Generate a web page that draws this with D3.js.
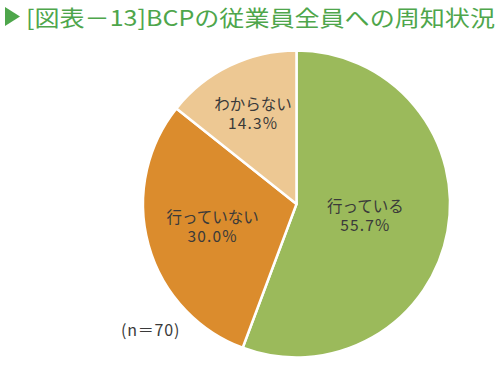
<!DOCTYPE html>
<html>
<head>
<meta charset="utf-8">
<script src="https://cdn.jsdelivr.net/npm/d3@7"></script>
<style>
  body { margin: 0; background: #fff; }
  text { font-family: "Noto Sans CJK JP", "Noto Sans", sans-serif; }
</style>
</head>
<body>
<svg id="chart" width="500" height="365"></svg>
<script>
var categories = ["行っている", "行っていない", "わからない"];
var values = [55.7, 30.0, 14.3];
var colors = ["#9bba5b", "#db8c2d", "#edc893"];
var title = "[図表－13]BCPの従業員全員への周知状況";
var note = "(n＝70)";

var svg = d3.select("#chart");

// title
svg.append("path")
  .attr("d", "M5,7 L20,16.5 L5,26 Z")
  .style("fill", "#4ea64b");
svg.append("text")
  .attr("x", 26)
  .attr("y", 26)
  .attr("textLength", 469)
  .attr("lengthAdjust", "spacingAndGlyphs")
  .style("font-size", "22px")
  .style("fill", "#4ea64b")
  .text(title);

var cx = 296.5, cy = 204, radius = 153.5;
var g = svg.append("g").attr("transform", "translate(" + cx + "," + cy + ")");

var pie = d3.pie().sort(null).value(function(d) { return d; });
var arcs = pie(values);

var arc = d3.arc().innerRadius(0).outerRadius(radius);

g.selectAll("path.slice")
  .data(arcs)
  .enter().append("path")
  .attr("class", "slice")
  .attr("d", arc)
  .style("fill", function(d, i) { return colors[i]; })
  .style("stroke", "#fff")
  .style("stroke-width", 2.5)
  .style("stroke-linejoin", "round");

// label distance from centre for each slice
var labelR = [70, 87, 100];

arcs.forEach(function(d, i) {
  var la = d3.arc().innerRadius(labelR[i]).outerRadius(labelR[i]);
  var c = la.centroid(d);
  g.append("text")
    .attr("x", c[0]).attr("y", c[1] - 4)
    .attr("text-anchor", "middle")
    .style("font-size", "15.5px")
    .style("fill", "#3a3a3a")
    .text(categories[i]);
  g.append("text")
    .attr("x", c[0]).attr("y", c[1] + 15)
    .attr("text-anchor", "middle")
    .style("font-size", "15.5px")
    .style("letter-spacing", "1.2px")
    .style("fill", "#3a3a3a")
    .text(values[i].toFixed(1) + "%");
});

svg.append("text")
  .attr("x", 121)
  .attr("y", 336)
  .style("font-size", "16px")
  .style("letter-spacing", "0.8px")
  .style("fill", "#3a3a3a")
  .text(note);
</script>
</body>
</html>
